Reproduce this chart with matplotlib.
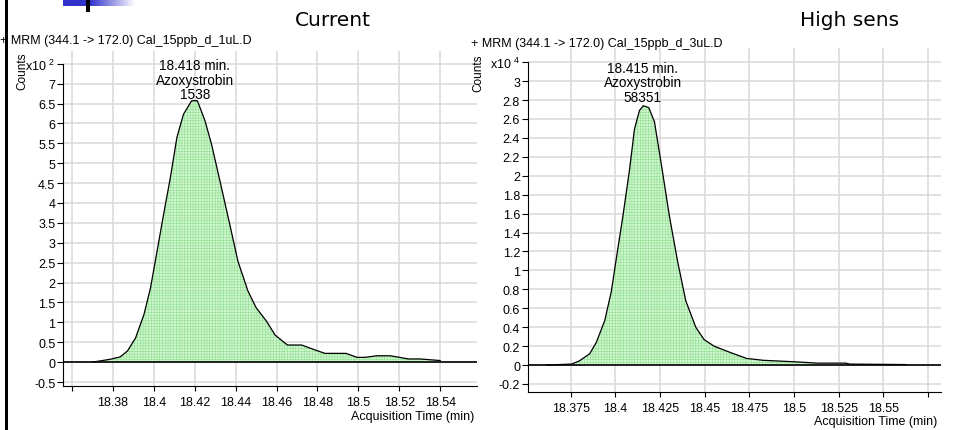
import matplotlib
matplotlib.use('Agg')
import matplotlib.pyplot as plt
import numpy as np
from matplotlib.patches import Rectangle

plt.rcParams['font.family'] = ['Liberation Sans', 'DejaVu Sans']
plt.rcParams['mathtext.default'] = 'regular'
plt.rcParams['hatch.linewidth'] = 0.4

# left chromatogram (Counts x10^2)
cur_time = [18.370, 18.3785, 18.3835, 18.3871, 18.3911, 18.3952, 18.3984, 18.4016,
            18.4048, 18.4081, 18.4113, 18.4145, 18.4185, 18.4213, 18.425, 18.4282,
            18.4323, 18.4371, 18.4411, 18.446, 18.450, 18.4552, 18.4593, 18.4653,
            18.4723, 18.4797, 18.4837, 18.494, 18.4993, 18.5033, 18.509, 18.5156,
            18.5245, 18.530, 18.540]
cur_counts = [0, 0.07, 0.13, 0.28, 0.61, 1.20, 1.87, 2.79,
              3.72, 4.64, 5.65, 6.23, 6.57, 6.57, 6.07, 5.48,
              4.56, 3.47, 2.54, 1.79, 1.37, 1.02, 0.68, 0.43,
              0.43, 0.29, 0.22, 0.22, 0.12, 0.12, 0.16, 0.16,
              0.08, 0.08, 0.04]

# right chromatogram (Counts x10^4)
hs_time = [18.3616, 18.3756, 18.380, 18.3857, 18.3894, 18.3941, 18.3978, 18.4006,
           18.4043, 18.408, 18.4107, 18.4135, 18.4157, 18.4187, 18.4219, 18.4237,
           18.4265, 18.4302, 18.4348, 18.4394, 18.445, 18.4496, 18.4552, 18.4641,
           18.4734, 18.4827, 18.4995, 18.5131, 18.529, 18.531, 18.5624]
hs_counts = [0, 0.01, 0.045, 0.12, 0.24, 0.47, 0.78, 1.13,
             1.58, 2.07, 2.49, 2.69, 2.74, 2.72, 2.57, 2.36,
             2.03, 1.58, 1.10, 0.68, 0.40, 0.27, 0.20, 0.134,
             0.07, 0.05, 0.035, 0.02, 0.02, 0.01, 0.005]

cur_xticks = [18.36, 18.38, 18.40, 18.42, 18.44, 18.46, 18.48, 18.50, 18.52, 18.54]
cur_xlabels = ['', '18.38', '18.4', '18.42', '18.44', '18.46', '18.48', '18.5', '18.52', '18.54']
cur_yticks = [-0.5, 0, 0.5, 1, 1.5, 2, 2.5, 3, 3.5, 4, 4.5, 5, 5.5, 6, 6.5, 7, 7.5]
cur_ylabels = ['-0.5', '0', '0.5', '1', '1.5', '2', '2.5', '3', '3.5', '4', '4.5',
               '5', '5.5', '6', '6.5', '7', r'x10 $^{2}$']

hs_xticks = [18.375, 18.40, 18.425, 18.45, 18.475, 18.50, 18.525, 18.55, 18.575]
hs_xlabels = ['18.375', '18.4', '18.425', '18.45', '18.475', '18.5', '18.525', '18.55', '']
hs_yticks = [-0.2, 0, 0.2, 0.4, 0.6, 0.8, 1, 1.2, 1.4, 1.6, 1.8, 2, 2.2, 2.4, 2.6, 2.8, 3, 3.2]
hs_ylabels = ['-0.2', '0', '0.2', '0.4', '0.6', '0.8', '1', '1.2', '1.4', '1.6', '1.8',
              '2', '2.2', '2.4', '2.6', '2.8', '3', r'x10 $^{4}$']

W, H = 958, 431
fig = plt.figure(figsize=(W / 100, H / 100), dpi=100)


def px(x, y):
    return x / W, 1 - y / H


def chrom(ax, t, c, xticks, xlabels, yticks, ylabels, xlim, ylim, note, note_xy):
    ax.fill_between(t, c, 0, facecolor='#d2f5d2', edgecolor='#8fe08f',
                    hatch='++++++', linewidth=0, zorder=2)
    ax.plot(t, c, color='black', lw=0.9, zorder=3)
    ax.axhline(0, color='black', lw=1.2, zorder=3)
    ax.set_xlim(*xlim)
    ax.set_ylim(*ylim)
    ax.set_xticks(xticks)
    ax.set_xticklabels(xlabels)
    ax.set_yticks(yticks)
    ax.set_yticklabels(ylabels)
    ax.grid(True, color='#d9d9d9', lw=1.1, zorder=0)
    ax.set_axisbelow(True)
    for s in ['top', 'right']:
        ax.spines[s].set_visible(False)
    ax.spines['left'].set_bounds(ylim[0], yticks[-1])
    ax.tick_params(axis='y', length=4.5, width=0.8, pad=1, labelsize=9)
    ax.tick_params(axis='x', length=3.5, width=0.8, pad=3.5, labelsize=9)
    ax.text(note_xy[0], note_xy[1], note, ha='center', va='center',
            fontsize=9.8, linespacing=1.05, zorder=4)


ax1 = fig.add_axes([63 / W, 1 - 387 / H, 414 / W, 335 / H])
chrom(ax1, cur_time, cur_counts, cur_xticks, cur_xlabels, cur_yticks, cur_ylabels,
      (18.3556, 18.558), (-0.6, 7.82), '18.418 min.\nAzoxystrobin\n1538', (18.4201, 7.1))

ax2 = fig.add_axes([527.7 / W, 1 - 393 / H, 413 / W, 344 / H])
chrom(ax2, hs_time, hs_counts, hs_xticks, hs_xlabels, hs_yticks, hs_ylabels,
      (18.351, 18.582), (-0.285, 3.35), '18.415 min.\nAzoxystrobin\n58351', (18.4154, 2.99))

# panel texts
fig.text(*px(333, 20), 'Current', ha='center', va='center', fontsize=14.5, family='DejaVu Sans')
fig.text(*px(850, 20), 'High sens', ha='center', va='center', fontsize=14.5, family='DejaVu Sans')
fig.text(*px(0, 41), '+ MRM (344.1 -> 172.0) Cal_15ppb_d_1uL.D', ha='left', va='center', fontsize=9)
fig.text(*px(471, 44), '+ MRM (344.1 -> 172.0) Cal_15ppb_d_3uL.D', ha='left', va='center', fontsize=9)
fig.text(*px(22, 71), 'Counts', rotation=90, ha='center', va='center', fontsize=8.5)
fig.text(*px(478, 73), 'Counts', rotation=90, ha='center', va='center', fontsize=8.5)
fig.text(*px(474, 417), 'Acquisition Time (min)', ha='right', va='center', fontsize=9)
fig.text(*px(937, 422), 'Acquisition Time (min)', ha='right', va='center', fontsize=9)

# slide decoration: left bar, blue gradient tab
fig.add_artist(Rectangle(px(5, H), 3 / W, 1, transform=fig.transFigure,
                         facecolor='black', edgecolor='none'))
grad_ax = fig.add_axes([63 / W, 1 - 7 / H, 77 / W, 7 / H])
g = np.clip(np.linspace(1.6, -0.1, 200), 0, 1)
rgb = np.ones((1, 200, 3))
rgb[0, :, 0] = 1 - g * (1 - 0.2)
rgb[0, :, 1] = 1 - g * (1 - 0.2)
rgb[0, :, 2] = 1 - g * (1 - 0.8)
grad_ax.imshow(rgb, aspect='auto')
grad_ax.axis('off')
fig.add_artist(Rectangle(px(86, 13), 4 / W, 13 / H, transform=fig.transFigure,
                         facecolor='black', edgecolor='none'))

fig.savefig('out.png', dpi=100)
